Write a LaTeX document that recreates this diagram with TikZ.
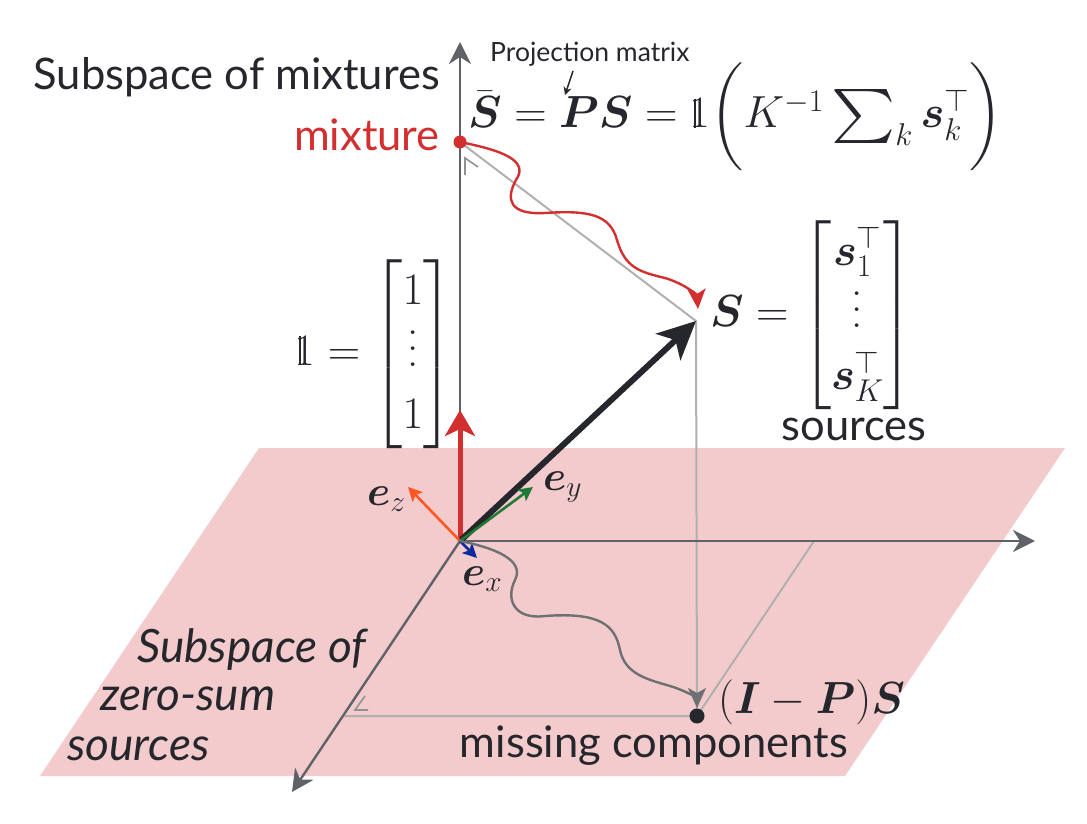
\RequirePackage{fix-cm}
\documentclass[tikz,border=0pt]{standalone}
\usepackage{amsmath,amssymb}
\usepackage{fontspec}
\newfontfamily\gsans{Lato}
\usetikzlibrary{arrows.meta,positioning}

\definecolor{planepink}{HTML}{F4CBCD}
\definecolor{mixred}{HTML}{D32F2F}
\definecolor{axisgray}{HTML}{5F6368}
\definecolor{wiggray}{HTML}{6E7074}
\definecolor{guidegray}{HTML}{B0B0B0}
\definecolor{inkdark}{HTML}{25272C}
\definecolor{ezorange}{HTML}{FF5722}
\definecolor{eygreen}{HTML}{1E7B34}
\definecolor{exblue}{HTML}{0D2A9E}

\newcommand{\colvdots}{\vbox{\baselineskip=16pt \lineskiplimit=0pt \kern6pt\hbox{.}\hbox{.}\hbox{.}}}
\newcommand{\onesvec}{\mathrm{1}\llap{\rule{0.035em}{0.64em}\kern0.325em}}
\newcommand{\widesum}{\mathop{\vcenter{\hbox{\scalebox{1.35}[1.2]{$\sum$}}}}\nolimits}

\begin{document}
\begin{tikzpicture}[
    x=1pt, y=-1pt,
    axis/.style={
        axisgray,
        line width=2.4pt,
        -{Stealth[length=22pt,width=22pt,inset=7pt]}
    },
    guide/.style={
        guidegray,
        line width=2pt
    },
    anglemark/.style={
        axisgray!70,
        line width=1.6pt
    },
    basis/.style={
        line width=2.6pt,
        -{Stealth[length=14pt,width=14pt,inset=3pt]}
    },
    wiggle/.style={
        line width=2.4pt,
        -{Stealth[length=20pt,width=18pt,inset=5pt]}
    },
    sanslabel/.style={
        font=\gsans\fontsize{43.5}{52}\selectfont,
        text=inkdark,
        inner sep=0pt
    },
    zerolabel/.style={
        font=\gsans\itshape\fontsize{46}{52}\selectfont,
        text=inkdark,
        inner sep=0pt,
        anchor=base west
    },
    mathlabel/.style={
        font=\fontsize{45}{54}\selectfont,
        text=inkdark,
        inner sep=0pt
    }
]

\useasboundingbox (0,0) rectangle (1087,824);

%---------------------------------------------------------------------
% Plane of zero-sum sources
%---------------------------------------------------------------------

\fill[planepink] (259,448) -- (1065,448) -- (845,776) -- (40,776) -- cycle;

%---------------------------------------------------------------------
% Points
%---------------------------------------------------------------------

\coordinate (O) at (460,541);
\coordinate (mix) at (460,142);
\coordinate (S) at (696,321);
\coordinate (Sin) at (698,309);
\coordinate (res) at (697,716);
\coordinate (resin) at (697,708);
\coordinate (ztop) at (460,42);
\coordinate (xend) at (1035,541);
\coordinate (yend) at (292,792);
\coordinate (xfoot) at (814,541);
\coordinate (yfoot) at (344,716);
\coordinate (onetip) at (460,410);

%---------------------------------------------------------------------
% Guides and axes
%---------------------------------------------------------------------

\draw[guide] (mix) -- (S) -- (res);
\draw[guide] (yfoot) -- (res) -- (xfoot);

\draw[anglemark] (465,175) -- (465,158) -- (478,167);
\draw[anglemark] (365,696) -- (355,710) -- (368,710);

\draw[axis] (O) -- (ztop);
\draw[axis] (O) -- (xend);
\draw[axis] (O) -- (yend);

%---------------------------------------------------------------------
% Vectors
%---------------------------------------------------------------------

\draw[mixred, line width=5pt, -{Stealth[length=26pt,width=30pt,inset=7pt]}] (O) -- (onetip);
\draw[inkdark, line width=6pt, -{Stealth[length=38pt,width=36pt,inset=10pt]}] (O) -- (S);

\draw[basis, ezorange] (O) -- (408,487);
\draw[basis, eygreen] (O) -- (533,487);
\draw[basis, exblue] (O) -- (477,558);

%---------------------------------------------------------------------
% Projections
%---------------------------------------------------------------------

\draw[wiggle, mixred] (mix)
    .. controls (500,150) and (530,160) .. (516,180)
    .. controls (505,200) and (510,215) .. (545,213)
    .. controls (590,210) and (610,215) .. (617,240)
    .. controls (625,268) and (640,272) .. (665,278)
    .. controls (685,284) and (697,295) .. (Sin);

\draw[wiggle, wiggray] (O)
    .. controls (495,548) and (525,560) .. (515,580)
    .. controls (505,600) and (515,620) .. (545,616)
    .. controls (600,612) and (615,625) .. (620,650)
    .. controls (625,675) and (650,680) .. (670,686)
    .. controls (690,692) and (697,700) .. (resin);

\fill[mixred] (mix) circle (6.5);
\fill[inkdark] (res) circle (7.5);

%---------------------------------------------------------------------
% Labels
%---------------------------------------------------------------------

\node[sanslabel, anchor=base east] (mixtitle) at (440,90) {Subspace of mixtures};
\node[sanslabel, anchor=base east, text=mixred] (mixlabel) at (440,150) {mixture};

\node[font=\gsans\fontsize{26.5}{30}\selectfont, text=inkdark, inner sep=0pt, anchor=base west]
    (projlabel) at (490,62) {Projection matrix};
\coordinate (projfrom) at (573,71);
\coordinate (Ptop) at (565,95);
\draw[inkdark, line width=1.5pt, -{Stealth[length=8pt,width=8pt]}] (projfrom) -- (Ptop);

\node[mathlabel, anchor=base west] (meaneq) at (468,128)
    {$\bar{\boldsymbol S} = \boldsymbol P\boldsymbol S = \onesvec\biggl(K^{-1}\widesum_k \boldsymbol s_k^\top\biggr)$};

\node[mathlabel] (onevec) at (374,354)
    {$\onesvec = \renewcommand{\arraystretch}{1.15}\begin{bmatrix}1\\ \colvdots\\ 1\end{bmatrix}$};

\node[mathlabel] (Smat) at (812,315)
    {$\boldsymbol S = \renewcommand{\arraystretch}{1.15}\begin{bmatrix}\boldsymbol s_1^\top\\ \colvdots\\ \boldsymbol s_K^\top\end{bmatrix}$};
\node[sanslabel, anchor=base] (srclabel) at (854,440) {sources};

\node[mathlabel, anchor=base west] (reslabel) at (718,713) {$(\boldsymbol I-\boldsymbol P)\boldsymbol S$};
\node[sanslabel, anchor=base east] (missing) at (848,757) {missing components};

\node[mathlabel, anchor=base west, font=\fontsize{42}{50}\selectfont] (ezlabel) at (367,505) {$\boldsymbol e_z$};
\node[mathlabel, anchor=base west, font=\fontsize{42}{50}\selectfont] (eylabel) at (543,490) {$\boldsymbol e_y$};
\node[mathlabel, anchor=base west, font=\fontsize{42}{50}\selectfont] (exlabel) at (462,585) {$\boldsymbol e_x$};

\node[zerolabel] (zs1) at (137,662) {Subspace of};
\node[zerolabel] (zs2) at (100,710) {zero-sum};
\node[zerolabel] (zs3) at (67,760) {sources};

\end{tikzpicture}
\end{document}
